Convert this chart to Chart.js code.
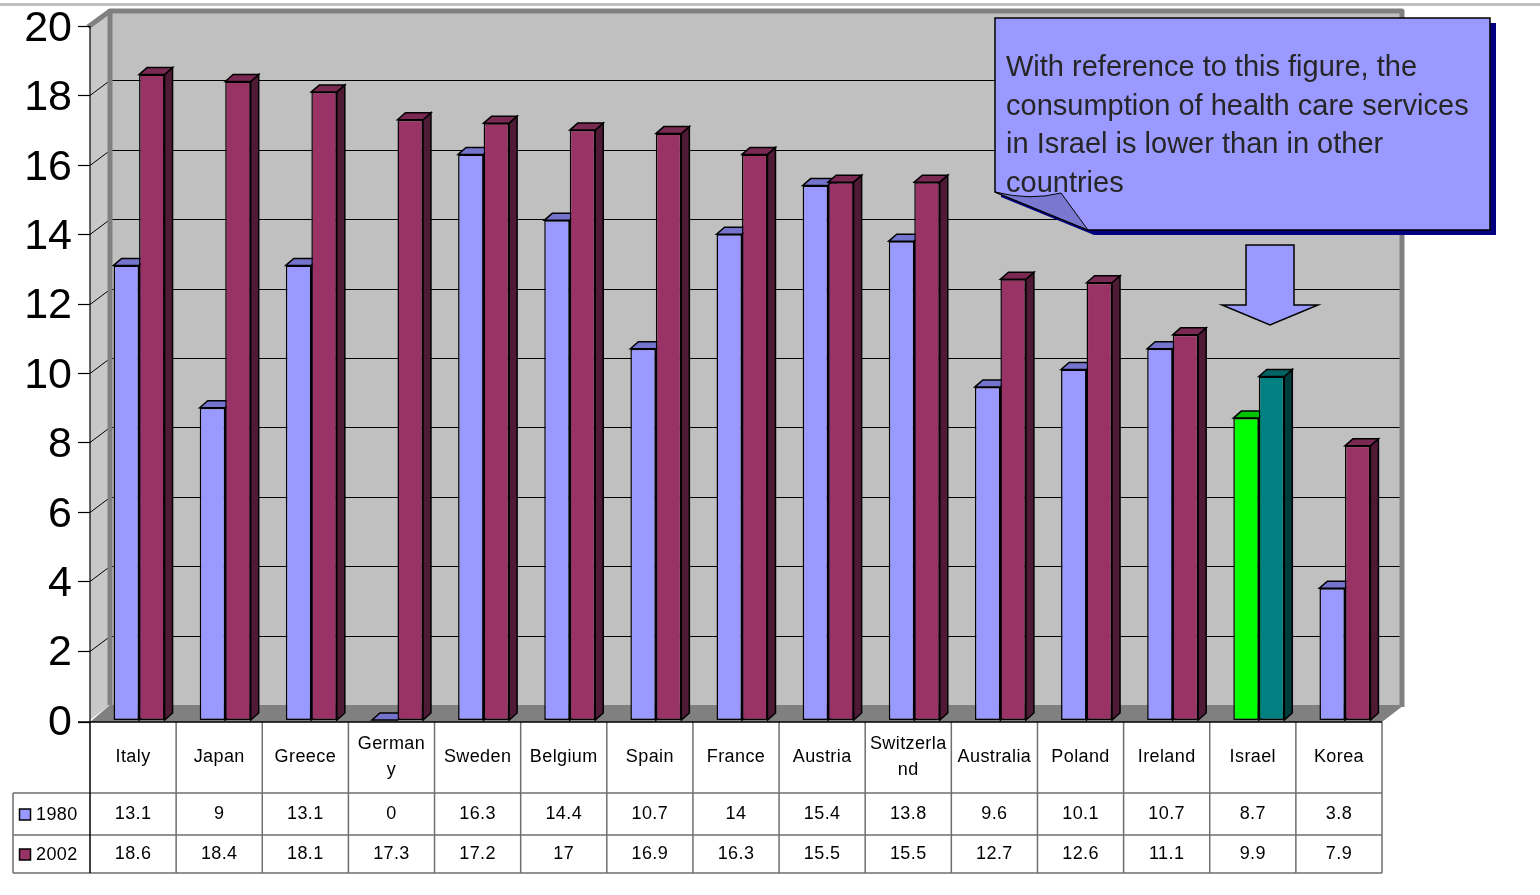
<!DOCTYPE html>
<html><head><meta charset="utf-8">
<script src="https://cdn.jsdelivr.net/npm/chart.js@4.4.1/dist/chart.umd.min.js"></script>
<style>html,body{margin:0;padding:0;background:#fff;overflow:hidden}canvas{display:block}</style>
</head><body>
<canvas id="c" width="1540" height="895"></canvas>
<script>
// ---------- data ----------
const categories = ['Italy','Japan','Greece','Germany','Sweden','Belgium','Spain','France','Austria','Switzerland','Australia','Poland','Ireland','Israel','Korea'];
const tableLabels = [['Italy'],['Japan'],['Greece'],['German','y'],['Sweden'],['Belgium'],['Spain'],['France'],['Austria'],['Switzerla','nd'],['Australia'],['Poland'],['Ireland'],['Israel'],['Korea']];
const values1980 = [13.1, 9, 13.1, 0, 16.3, 14.4, 10.7, 14, 15.4, 13.8, 9.6, 10.1, 10.7, 8.7, 3.8];
const values2002 = [18.6, 18.4, 18.1, 17.3, 17.2, 17, 16.9, 16.3, 15.5, 15.5, 12.7, 12.6, 11.1, 9.9, 7.9];
const seriesNames = ['1980', '2002'];
const yTickValues = [0, 2, 4, 6, 8, 10, 12, 14, 16, 18, 20];
const highlightCategory = 'Israel';
const calloutLines = ['With reference to this figure, the', 'consumption of health care services', 'in Israel is lower than in other', 'countries'];

// ---------- styles ----------
const FONT = '"Liberation Sans", Arial, Helvetica, sans-serif';
const palette = [
  {front:'#9999FF', top:'#7474CC', side:'#5A5A99', hFront:'#00FF00', hTop:'#00C400', hSide:'#008800'},
  {front:'#993366', top:'#7A2952', side:'#4F1A35', hFront:'#008080', hTop:'#006464', hSide:'#003C3C'}
];
const WALL_DX = 20, WALL_DY = 15, BAR_DX = 8, BAR_DY = 7, BAR_SHIFT = 6;
const hiIdx = categories.indexOf(highlightCategory);
const colorsFor = (p, key, hkey) => categories.map((c, i) => i === hiIdx ? p[hkey] : p[key]);

function poly(ctx, pts, fill, stroke, lw) {
  ctx.beginPath();
  pts.forEach((p, i) => i ? ctx.lineTo(p[0], p[1]) : ctx.moveTo(p[0], p[1]));
  ctx.closePath();
  if (fill) { ctx.fillStyle = fill; ctx.fill(); }
  if (stroke) { ctx.strokeStyle = stroke; ctx.lineWidth = lw || 1; ctx.stroke(); }
}

const scene = {
  id: 'scene',
  beforeDraw(chart) {
    const ctx = chart.ctx, ys = chart.scales.y, ca = chart.chartArea;
    const fx0 = ca.left - BAR_SHIFT, fx1 = ca.right - BAR_SHIFT;
    const y0 = ys.getPixelForValue(0), yT = ys.getPixelForValue(20);
    const bx0 = fx0 + WALL_DX, bx1 = fx1 + WALL_DX, by0 = yT - WALL_DY, by1 = y0 - WALL_DY;
    ctx.save();
    ctx.fillStyle = '#fff'; ctx.fillRect(0, 0, chart.width, chart.height);
    ctx.fillStyle = '#C0C0C0'; ctx.fillRect(0, 3, chart.width, 3);
    // back wall
    ctx.fillStyle = '#C0C0C0'; ctx.fillRect(bx0, by0, bx1 - bx0, by1 - by0);
    // left wall
    poly(ctx, [[fx0, yT], [bx0, by0], [bx0, by1], [fx0, y0]], '#C8C8C8');
    // gridlines
    ctx.strokeStyle = '#000'; ctx.lineWidth = 1;
    yTickValues.forEach(v => {
      if (v === 0 || v === 20) return;
      const y = Math.round(ys.getPixelForValue(v)) + 0.5;
      ctx.beginPath(); ctx.moveTo(fx0, y); ctx.lineTo(bx0, y - WALL_DY); ctx.lineTo(bx1, y - WALL_DY); ctx.stroke();
    });
    // frame
    ctx.strokeStyle = '#808080'; ctx.lineWidth = 5; ctx.lineJoin = 'round';
    ctx.beginPath(); ctx.moveTo(bx0, by1); ctx.lineTo(bx0, by0); ctx.lineTo(bx1, by0); ctx.lineTo(bx1, by1 + 2); ctx.stroke();
    ctx.beginPath(); ctx.moveTo(fx0 - 2, yT + 1); ctx.lineTo(bx0, by0); ctx.stroke();
    // floor
    poly(ctx, [[fx0, y0 + 2], [bx0, by1], [bx1 + 2, by1], [fx1, y0 + 2]], '#808080');
    ctx.restore();
  },
  beforeDatasetsDraw(chart) {
    const ctx = chart.ctx;
    ctx.save();
    ctx.lineJoin = 'miter';
    categories.forEach((c, i) => {
      [0, 1].forEach(d => {
        const el = chart.getDatasetMeta(d).data[i];
        const p = palette[d], hi = i === hiIdx;
        const l = el.x - el.width / 2, r = el.x + el.width / 2, t = el.y, b = el.base;
        poly(ctx, [[r, t], [r + BAR_DX, t - BAR_DY], [r + BAR_DX, b - BAR_DY], [r, b]], hi ? p.hSide : p.side, '#000', 1.5);
        poly(ctx, [[l, t], [l + BAR_DX, t - BAR_DY], [r + BAR_DX, t - BAR_DY], [r, t]], hi ? p.hTop : p.top, '#000', 1.5);
      });
    });
    ctx.restore();
  },
  afterDraw(chart) {
    const ctx = chart.ctx, ys = chart.scales.y, ca = chart.chartArea;
    const fx0 = ca.left - BAR_SHIFT, fx1 = ca.right - BAR_SHIFT;
    const y0 = ys.getPixelForValue(0), yT = ys.getPixelForValue(20);
    const colW = (fx1 - fx0) / categories.length;
    ctx.save();
    // axis line + ticks
    ctx.strokeStyle = '#000'; ctx.lineWidth = 1.2;
    ctx.beginPath(); ctx.moveTo(fx0, yT); ctx.lineTo(fx0, y0 + 2); ctx.stroke();
    yTickValues.forEach(v => {
      const y = Math.round(ys.getPixelForValue(v)) + 0.5 + (v === 0 ? 2 : 0);
      ctx.beginPath(); ctx.moveTo(fx0 - 12, y); ctx.lineTo(fx0, y); ctx.stroke();
    });
    // table
    const tTop = y0 + 2, r1 = tTop + 71, r2 = r1 + 42, tBot = r2 + 38, legL = 13;
    ctx.strokeStyle = '#6E6E6E'; ctx.lineWidth = 1.5;
    const hl = (x1, x2, y) => { ctx.beginPath(); ctx.moveTo(x1, y); ctx.lineTo(x2, y); ctx.stroke(); };
    const vl = (x, y1, y2) => { ctx.beginPath(); ctx.moveTo(x, y1); ctx.lineTo(x, y2); ctx.stroke(); };
    hl(legL, fx1, r1); hl(legL, fx1, r2); hl(legL, fx1, tBot);
    vl(legL, r1, tBot);
    for (let i = 1; i <= categories.length; i++) vl(fx0 + i * colW, tTop, tBot);
    ctx.strokeStyle = '#000'; ctx.lineWidth = 1.5;
    vl(fx0, tTop, tBot);
    hl(fx0 - 12, fx1, tTop);
    ctx.fillStyle = '#000'; ctx.textAlign = 'center'; ctx.textBaseline = 'middle';
    ctx.font = '18px ' + FONT;
    if ('letterSpacing' in ctx) ctx.letterSpacing = '0.4px';
    tableLabels.forEach((lines, i) => {
      const cx = fx0 + (i + 0.5) * colW;
      if (lines.length === 1) ctx.fillText(lines[0], cx, tTop + 35);
      else { ctx.fillText(lines[0], cx, tTop + 22); ctx.fillText(lines[1], cx, tTop + 48); }
      ctx.fillText(String(values1980[i]), cx, r1 + 21);
      ctx.fillText(String(values2002[i]), cx, r2 + 19);
    });
    // legend keys
    ctx.textAlign = 'left';
    [[r1 + 22, 0], [r2 + 20, 1]].forEach(([cy, d]) => {
      ctx.fillStyle = palette[d].front; ctx.fillRect(19.5, cy - 6, 11, 11);
      ctx.strokeStyle = '#000'; ctx.lineWidth = 1.5; ctx.strokeRect(19.5, cy - 6, 11, 11);
      ctx.fillStyle = '#000'; ctx.fillText(seriesNames[d], 36, cy);
    });
    if ('letterSpacing' in ctx) ctx.letterSpacing = '0px';
    // callout
    const cL = 995, cT = 18, cR = 1490, cB = 230, fold = [[995, 192], [1088, 230]];
    const shape = [[cL, cT], [cR, cT], [cR, cB], fold[1], fold[0]];
    poly(ctx, shape.map(p => [p[0] + 6, p[1] + 5]), '#000080');
    poly(ctx, shape, '#9999FF', '#000', 1.5);
    ctx.beginPath();
    ctx.moveTo(995, 192); ctx.quadraticCurveTo(1030, 201, 1061, 193); ctx.lineTo(1088, 230); ctx.closePath();
    ctx.fillStyle = '#7878D0'; ctx.fill(); ctx.strokeStyle = '#000'; ctx.lineWidth = 1; ctx.stroke();
    ctx.fillStyle = '#262626'; ctx.font = '29px ' + FONT; ctx.textAlign = 'left'; ctx.textBaseline = 'alphabetic';
    calloutLines.forEach((s, k) => ctx.fillText(s, 1006, 76 + k * 38.7));
    // arrow
    poly(ctx, [[1246, 245], [1294, 245], [1294, 305], [1318, 305], [1270, 325], [1222, 305], [1246, 305]], '#9999FF', '#000', 1.5);
    ctx.restore();
  }
};

new Chart(document.getElementById('c'), {
  type: 'bar',
  data: {
    labels: categories,
    datasets: seriesNames.map((name, d) => ({
      label: name,
      data: d === 0 ? values1980 : values2002,
      backgroundColor: colorsFor(palette[d], 'front', 'hFront'),
      borderColor: '#000',
      borderWidth: 1.5,
      borderSkipped: false,
      categoryPercentage: 0.592,
      barPercentage: 1.0
    }))
  },
  options: {
    responsive: false,
    animation: false,
    devicePixelRatio: 1,
    layout: { padding: { top: 26, bottom: 175, left: 0, right: 152 } },
    plugins: { legend: { display: false }, tooltip: { enabled: false } },
    scales: {
      x: { display: false },
      y: {
        min: 0, max: 20,
        afterFit: s => { s.width = 96; s.paddingTop = 0; s.paddingBottom = 0; },
        afterBuildTicks: s => { s.ticks = yTickValues.map(v => ({ value: v })); },
        ticks: { color: '#000', padding: 24, labelOffset: 3, font: { size: 43, family: FONT } },
        grid: { display: false, drawTicks: false },
        border: { display: false }
      }
    }
  },
  plugins: [scene]
});
</script>
</body></html>
